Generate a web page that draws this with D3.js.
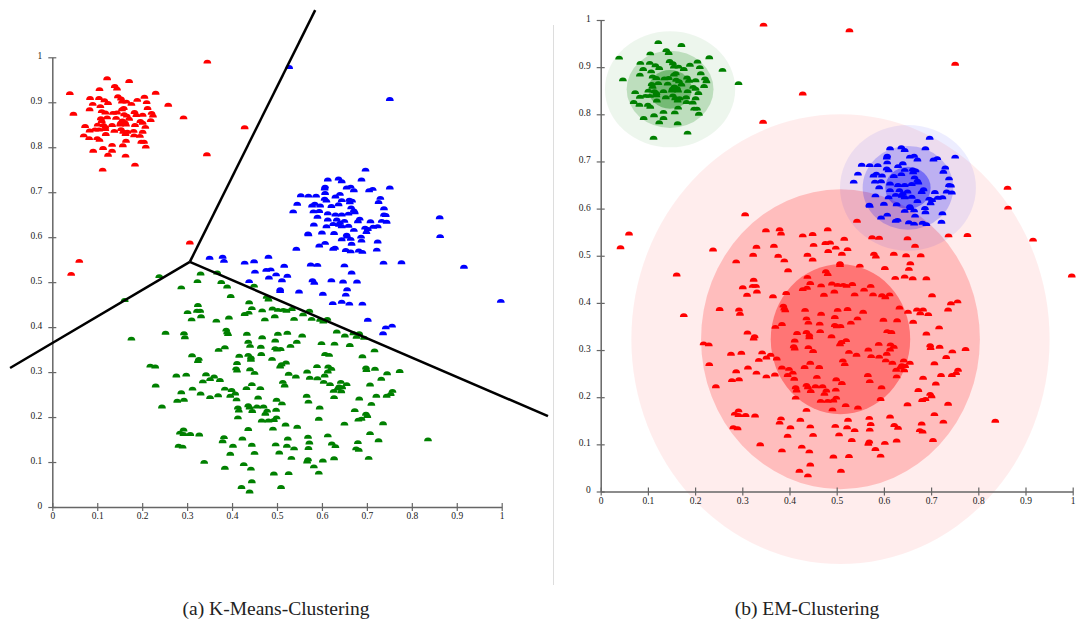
<!DOCTYPE html>
<html><head><meta charset="utf-8">
<script src="https://cdn.jsdelivr.net/npm/d3@7"></script>
<style>
body{margin:0;background:#fff;}
svg text{font-family:"Liberation Serif","Times New Roman",serif;}
</style></head><body>
<svg id="fig" width="1076" height="623"></svg>
<script>
// Points grouped by (k-means cluster, EM component) assignment. Values are [x, y] in [0,1].
const ptsKRedEmGreen = [[0.122,0.949],[0.171,0.943],[0.139,0.932],[0.144,0.926],[0.105,0.925],[0.039,0.916],[0.230,0.917],[0.084,0.905],[0.104,0.905],[0.116,0.900],[0.146,0.909],[0.153,0.904],[0.155,0.897],[0.165,0.897],[0.176,0.892],[0.189,0.901],[0.205,0.908],[0.210,0.896],[0.124,0.894],[0.090,0.892],[0.107,0.887],[0.258,0.890],[0.083,0.880],[0.110,0.876],[0.118,0.873],[0.135,0.872],[0.144,0.873],[0.155,0.880],[0.159,0.883],[0.183,0.874],[0.212,0.883],[0.221,0.872],[0.224,0.866],[0.047,0.870],[0.292,0.862],[0.108,0.860],[0.122,0.862],[0.142,0.861],[0.160,0.869],[0.166,0.866],[0.171,0.859],[0.187,0.867],[0.201,0.868],[0.110,0.854],[0.156,0.855],[0.152,0.850],[0.162,0.851],[0.196,0.854],[0.201,0.850],[0.219,0.856],[0.073,0.843],[0.101,0.846],[0.114,0.845],[0.118,0.841],[0.133,0.845],[0.151,0.846],[0.164,0.846],[0.184,0.845],[0.207,0.841],[0.083,0.833],[0.095,0.835],[0.104,0.835],[0.118,0.836],[0.138,0.832],[0.158,0.830],[0.167,0.830],[0.181,0.832],[0.201,0.830],[0.153,0.836],[0.070,0.822],[0.082,0.816],[0.100,0.816],[0.105,0.812],[0.119,0.825],[0.163,0.825],[0.182,0.822],[0.195,0.821],[0.133,0.801],[0.157,0.800],[0.164,0.810],[0.198,0.808],[0.204,0.808],[0.208,0.797],[0.113,0.794],[0.133,0.788],[0.091,0.788],[0.124,0.779],[0.163,0.777],[0.184,0.757],[0.112,0.746]];

const ptsKRedEmRed = [[0.042,0.514],[0.060,0.543],[0.306,0.584],[0.345,0.986],[0.428,0.840],[0.344,0.780]];

const ptsKBlueEmBlue = [[0.697,0.746],[0.613,0.724],[0.637,0.726],[0.644,0.720],[0.688,0.724],[0.607,0.708],[0.606,0.704],[0.655,0.706],[0.664,0.708],[0.671,0.700],[0.705,0.700],[0.713,0.703],[0.751,0.706],[0.607,0.694],[0.640,0.692],[0.553,0.689],[0.570,0.688],[0.587,0.688],[0.606,0.681],[0.610,0.677],[0.630,0.686],[0.644,0.678],[0.661,0.679],[0.667,0.677],[0.730,0.683],[0.545,0.670],[0.578,0.666],[0.584,0.670],[0.596,0.666],[0.621,0.665],[0.637,0.669],[0.662,0.673],[0.726,0.674],[0.665,0.662],[0.671,0.655],[0.738,0.660],[0.536,0.653],[0.581,0.653],[0.594,0.654],[0.613,0.649],[0.630,0.646],[0.644,0.646],[0.659,0.648],[0.673,0.651],[0.738,0.646],[0.742,0.645],[0.590,0.641],[0.613,0.635],[0.633,0.635],[0.640,0.628],[0.650,0.632],[0.684,0.637],[0.680,0.631],[0.708,0.631],[0.733,0.632],[0.744,0.630],[0.582,0.624],[0.610,0.620],[0.625,0.625],[0.638,0.623],[0.644,0.620],[0.659,0.621],[0.696,0.617],[0.702,0.614],[0.714,0.619],[0.724,0.620],[0.671,0.612],[0.569,0.604],[0.570,0.602],[0.600,0.606],[0.627,0.605],[0.655,0.601],[0.656,0.597],[0.687,0.597],[0.688,0.588],[0.699,0.607],[0.644,0.591],[0.664,0.592],[0.724,0.586],[0.607,0.583],[0.666,0.581],[0.594,0.577],[0.629,0.572],[0.625,0.570],[0.653,0.567],[0.664,0.564],[0.682,0.566],[0.690,0.563],[0.722,0.568]];

const ptsKBlueEmRed = [[0.527,0.974],[0.751,0.903],[0.862,0.640],[0.863,0.598],[0.916,0.530],[0.998,0.454],[0.543,0.570],[0.516,0.532],[0.575,0.535],[0.590,0.534],[0.650,0.533],[0.737,0.539],[0.777,0.540],[0.523,0.510],[0.666,0.517],[0.511,0.500],[0.579,0.500],[0.583,0.494],[0.621,0.500],[0.647,0.497],[0.678,0.497],[0.507,0.480],[0.507,0.476],[0.549,0.475],[0.602,0.470],[0.656,0.480],[0.653,0.468],[0.624,0.449],[0.644,0.452],[0.661,0.448],[0.690,0.448],[0.702,0.412],[0.742,0.395],[0.756,0.399],[0.736,0.382],[0.350,0.550],[0.379,0.552],[0.382,0.543],[0.428,0.539],[0.449,0.542],[0.481,0.552],[0.476,0.523],[0.486,0.524],[0.451,0.519],[0.498,0.513],[0.482,0.506],[0.438,0.498]];

const ptsKGreenEmRed = [[0.238,0.509],[0.161,0.456],[0.330,0.515],[0.367,0.517],[0.323,0.498],[0.376,0.496],[0.287,0.484],[0.389,0.486],[0.397,0.465],[0.449,0.488],[0.477,0.463],[0.481,0.457],[0.324,0.445],[0.301,0.429],[0.322,0.432],[0.329,0.432],[0.331,0.420],[0.310,0.413],[0.365,0.410],[0.393,0.417],[0.438,0.451],[0.444,0.438],[0.428,0.425],[0.437,0.428],[0.467,0.433],[0.490,0.437],[0.502,0.434],[0.514,0.434],[0.521,0.432],[0.533,0.436],[0.495,0.420],[0.473,0.413],[0.538,0.414],[0.176,0.370],[0.252,0.383],[0.293,0.382],[0.295,0.373],[0.387,0.390],[0.389,0.384],[0.391,0.380],[0.433,0.381],[0.467,0.373],[0.502,0.381],[0.523,0.383],[0.436,0.363],[0.440,0.354],[0.464,0.352],[0.496,0.366],[0.496,0.349],[0.500,0.346],[0.508,0.347],[0.530,0.354],[0.384,0.351],[0.370,0.345],[0.311,0.333],[0.326,0.325],[0.324,0.320],[0.416,0.332],[0.436,0.334],[0.442,0.328],[0.442,0.323],[0.465,0.336],[0.489,0.325],[0.520,0.317],[0.510,0.313],[0.507,0.308],[0.411,0.316],[0.218,0.310],[0.229,0.308],[0.409,0.304],[0.411,0.299],[0.440,0.302],[0.450,0.294],[0.276,0.288],[0.298,0.290],[0.342,0.291],[0.360,0.286],[0.351,0.280],[0.335,0.275],[0.373,0.278],[0.230,0.266],[0.513,0.274],[0.517,0.266],[0.526,0.292],[0.542,0.286],[0.444,0.269],[0.432,0.260],[0.463,0.260],[0.312,0.259],[0.384,0.259],[0.399,0.256],[0.407,0.248],[0.396,0.243],[0.287,0.251],[0.330,0.248],[0.369,0.244],[0.351,0.240],[0.410,0.235],[0.458,0.239],[0.499,0.234],[0.278,0.232],[0.293,0.234],[0.244,0.219],[0.511,0.226],[0.436,0.222],[0.439,0.217],[0.413,0.217],[0.415,0.210],[0.455,0.219],[0.470,0.219],[0.445,0.209],[0.478,0.210],[0.474,0.203],[0.498,0.212],[0.493,0.189],[0.499,0.195],[0.466,0.188],[0.481,0.188],[0.413,0.195],[0.545,0.174],[0.519,0.179],[0.436,0.169],[0.491,0.170],[0.292,0.168],[0.284,0.161],[0.292,0.158],[0.307,0.158],[0.327,0.157],[0.382,0.151],[0.379,0.142],[0.423,0.148],[0.524,0.148],[0.281,0.132],[0.290,0.130],[0.402,0.132],[0.444,0.134],[0.497,0.135],[0.522,0.132],[0.538,0.126],[0.396,0.114],[0.450,0.116],[0.505,0.117],[0.532,0.105],[0.338,0.096],[0.426,0.091],[0.384,0.083],[0.442,0.081],[0.493,0.070],[0.526,0.071],[0.444,0.053],[0.421,0.040],[0.439,0.030],[0.509,0.040],[0.572,0.432],[0.558,0.424],[0.577,0.414],[0.596,0.412],[0.603,0.408],[0.612,0.414],[0.633,0.386],[0.651,0.377],[0.670,0.382],[0.683,0.382],[0.677,0.374],[0.694,0.372],[0.556,0.377],[0.544,0.363],[0.599,0.360],[0.628,0.359],[0.662,0.356],[0.717,0.344],[0.607,0.336],[0.616,0.334],[0.690,0.331],[0.589,0.309],[0.614,0.308],[0.621,0.303],[0.613,0.297],[0.567,0.297],[0.698,0.306],[0.699,0.300],[0.718,0.303],[0.773,0.298],[0.745,0.293],[0.573,0.283],[0.590,0.282],[0.606,0.288],[0.732,0.281],[0.604,0.274],[0.618,0.269],[0.642,0.274],[0.655,0.269],[0.638,0.264],[0.645,0.262],[0.635,0.259],[0.626,0.254],[0.643,0.253],[0.707,0.268],[0.757,0.254],[0.753,0.247],[0.744,0.243],[0.721,0.243],[0.627,0.240],[0.566,0.243],[0.570,0.230],[0.683,0.237],[0.710,0.225],[0.595,0.217],[0.673,0.211],[0.698,0.203],[0.701,0.198],[0.688,0.192],[0.681,0.190],[0.593,0.192],[0.650,0.181],[0.736,0.182],[0.707,0.160],[0.613,0.155],[0.569,0.152],[0.726,0.144],[0.680,0.140],[0.622,0.137],[0.630,0.131],[0.572,0.139],[0.570,0.127],[0.836,0.146],[0.676,0.126],[0.682,0.123],[0.627,0.104],[0.704,0.105],[0.602,0.099],[0.569,0.102],[0.567,0.097],[0.582,0.086],[0.593,0.072]];

// Point groups with their cluster colour under each method
const pointGroups = [
  {pts: ptsKRedEmGreen,  kmeans: "red",   em: "green"},
  {pts: ptsKRedEmRed,    kmeans: "red",   em: "red"},
  {pts: ptsKBlueEmBlue,  kmeans: "blue",  em: "blue"},
  {pts: ptsKBlueEmRed,   kmeans: "blue",  em: "red"},
  {pts: ptsKGreenEmRed,  kmeans: "green", em: "red"}
];

// K-means decision boundaries: three rays from a common vertex
const boundaryVertex = [0.306, 0.545];
const boundaryEnds = [[0.585, 1.105], [-0.094, 0.309], [1.103, 0.202]];

// EM Gaussian components: mean and standard deviation per axis
const emComponents = [
  {name: "red",   mx: 0.508, my: 0.323, sx: 0.1477, sy: 0.159},
  {name: "green", mx: 0.147, my: 0.853, sx: 0.046,  sy: 0.041},
  {name: "blue",  mx: 0.651, my: 0.644, sx: 0.048,  sy: 0.0445}
];
const sigmaLevels = [3, 2, 1];
const sigmaOpacity = [0.07, 0.2, 0.38];

const tickValues = d3.range(0, 11).map(d => d / 10);
const captions = ["(a) K-Means-Clustering", "(b) EM-Clustering"];

const colors = {red: "#ff0000", blue: "#0000ff", green: "#008000"};

const svg = d3.select("#fig");

// panel scales
const xL = d3.scaleLinear().domain([0, 1]).range([52.3, 501.7]);
const yL = d3.scaleLinear().domain([0, 1]).range([507, 57.3]);
const xR = d3.scaleLinear().domain([0, 1]).range([600.7, 1072.7]);
const yR = d3.scaleLinear().domain([0, 1]).range([491.5, 20]);

const fmt = d => String(+d.toFixed(1));
const R = 3.9;
const dome = `M${-R},0A${R},${R} 0 0 1 ${R},0Z`;

function drawAxes(g, x, y) {
  const ax = g.append("g").attr("transform", `translate(0,${y(0)})`)
    .call(d3.axisBottom(x).tickValues(tickValues).tickFormat(fmt).tickSizeOuter(0));
  ax.selectAll(".tick line").attr("y1", -4).attr("y2", 4);
  ax.selectAll(".tick text").attr("y", 12).attr("dy", null);
  const ay = g.append("g").attr("transform", `translate(${x(0)},0)`)
    .call(d3.axisLeft(y).tickValues(tickValues).tickFormat(fmt).tickSizeOuter(0));
  ay.selectAll(".tick line").attr("x1", -4).attr("x2", 4);
  ay.selectAll(".tick text").attr("x", -10).attr("dy", "0.15em");
  [ax, ay].forEach(a => {
    a.attr("font-family", null).attr("font-size", null);
    a.select(".domain").attr("stroke", "#666").attr("stroke-width", 1.5);
    a.selectAll(".tick line").attr("stroke", "#666").attr("stroke-width", 1.2);
    a.selectAll(".tick text").attr("fill", "#222").style("font-size", "9.5px");
  });
}

function drawPoints(g, x, y, key) {
  pointGroups.forEach(grp => {
    g.append("g").selectAll("path").data(grp.pts).join("path")
      .attr("d", dome)
      .attr("transform", d => `translate(${x(d[0])},${y(d[1])})`)
      .attr("fill", colors[grp[key]]);
  });
}

// (a) K-means
const left = svg.append("g");
drawAxes(left, xL, yL);
drawPoints(left, xL, yL, "kmeans");
const line = d3.line().x(d => xL(d[0])).y(d => yL(d[1]));
boundaryEnds.forEach(e => {
  left.append("path").attr("d", line([boundaryVertex, e]))
    .attr("fill", "none").attr("stroke", "#000").attr("stroke-width", 2.5);
});

// (b) EM
const right = svg.append("g");
emComponents.forEach(c => {
  sigmaLevels.forEach((k, i) => {
    right.append("ellipse")
      .attr("cx", xR(c.mx)).attr("cy", yR(c.my))
      .attr("rx", xR(c.sx * k) - xR(0)).attr("ry", yR(0) - yR(c.sy * k))
      .attr("fill", colors[c.name]).attr("fill-opacity", sigmaOpacity[i]);
  });
});
drawAxes(right, xR, yR);
drawPoints(right, xR, yR, "em");

// divider between the panels
svg.append("line").attr("x1", 553.5).attr("x2", 553.5).attr("y1", 25).attr("y2", 585)
  .attr("stroke", "#ddd").attr("stroke-width", 1);

// captions
svg.selectAll("text.caption").data(captions).join("text")
  .attr("class", "caption")
  .attr("x", (d, i) => i === 0 ? 276 : 807).attr("y", 615)
  .attr("text-anchor", "middle").attr("fill", "#222")
  .style("font-size", "19.5px").text(d => d);
</script>
</body></html>
